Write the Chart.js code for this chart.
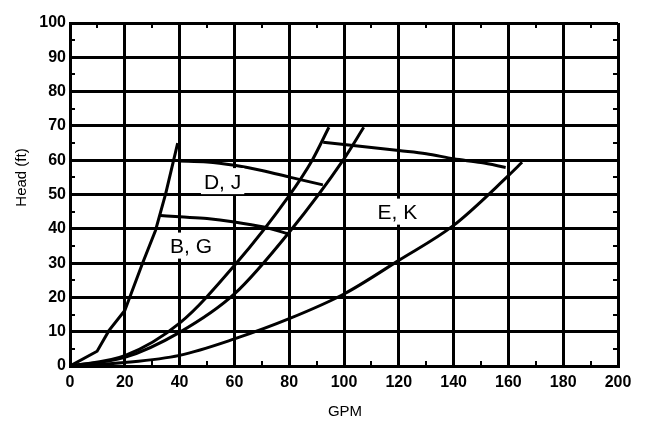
<!DOCTYPE html>
<html lang="en">
<head>
  <meta charset="UTF-8" />
  <title>Head vs GPM</title>
  <script src="https://cdn.jsdelivr.net/npm/chart.js"></script>
  <style>
    body { margin: 0; background: #fff; }
    #wrap { width: 647px; height: 421px; }
  </style>
</head>
<body>
  <div id="wrap"><canvas id="chart"></canvas></div>

  <script>
    // GPM / head (ft)
    const steepGpm = [0, 9.9, 14.2, 20, 26.4, 31.2, 34.9, 39.3];
    const steepHead = [0, 4.3, 10.3, 16.2, 29.8, 39.5, 50.2, 65];

    const sysAGpm = [0, 20, 40, 60, 80, 88.4, 94.5];
    const sysAHead = [0, 3, 12.5, 29.3, 49.7, 60, 69.6];

    const sysBGpm = [0, 20, 40, 60, 80, 100, 107.2];
    const sysBHead = [0, 2.5, 9.8, 21, 39, 60.4, 69.6];

    const sysEGpm = [0, 20, 40, 60, 80, 100, 120, 140, 160, 165];
    const sysEHead = [0, 1, 3.1, 7.9, 13.8, 21, 30.8, 41, 55.5, 59.4];

    const pumpDJGpm = [39.7, 50, 60, 70, 80.5, 92.3];
    const pumpDJHead = [59.8, 59.5, 58.5, 57, 55, 52.8];

    const pumpBGGpm = [33, 40, 50, 60, 70.7, 80];
    const pumpBGHead = [43.9, 43.5, 43, 42, 40.5, 38.5];

    const pumpEKGpm = [92.4, 100, 110, 120, 130, 140, 150, 159];
    const pumpEKHead = [65.2, 64.6, 63.7, 62.8, 61.9, 60.4, 59.3, 57.9];

    const xTickValues = [0, 20, 40, 60, 80, 100, 120, 140, 160, 180, 200];
    const yTickValues = [0, 10, 20, 30, 40, 50, 60, 70, 80, 90, 100];

    const curveLabels = ['D, J', 'B, G', 'E, K'];
    const labelGpm = [55.7, 44.2, 119.5];
    const labelHead = [53.9, 35.1, 45];

    const FONT = '"Liberation Sans", Arial, sans-serif';

    function pts(xs, ys) {
      return xs.map((x, i) => ({ x: x, y: ys[i] }));
    }

    function curve(xs, ys, smooth) {
      return {
        data: pts(xs, ys),
        borderColor: '#000',
        borderWidth: 3,
        pointRadius: 0,
        fill: false,
        tension: 0,
        cubicInterpolationMode: smooth ? 'monotone' : 'default'
      };
    }

    const decor = {
      id: 'decor',
      beforeDatasetsDraw(chart) {
        // small inward ticks between grid lines
        const { ctx, chartArea: a, scales: { x, y } } = chart;
        ctx.save();
        ctx.strokeStyle = '#000';
        ctx.lineWidth = 2;
        ctx.beginPath();
        for (let v = 10; v < 200; v += 20) {
          const px = Math.round(x.getPixelForValue(v));
          ctx.moveTo(px, a.top); ctx.lineTo(px, a.top + 5);
          ctx.moveTo(px, a.bottom); ctx.lineTo(px, a.bottom - 5);
        }
        for (let v = 5; v < 100; v += 10) {
          const py = Math.round(y.getPixelForValue(v));
          ctx.moveTo(a.left, py); ctx.lineTo(a.left + 5, py);
          ctx.moveTo(a.right, py); ctx.lineTo(a.right - 5, py);
        }
        ctx.stroke();
        ctx.restore();
      },
      afterDatasetsDraw(chart) {
        const { ctx, scales: { x, y } } = chart;
        ctx.save();
        ctx.font = '21px ' + FONT;
        ctx.textAlign = 'center';
        ctx.textBaseline = 'alphabetic';
        curveLabels.forEach((txt, i) => {
          const cx = x.getPixelForValue(labelGpm[i]);
          const cy = y.getPixelForValue(labelHead[i]);
          const w = ctx.measureText(txt).width;
          ctx.fillStyle = '#fff';
          ctx.fillRect(cx - w / 2 - 3, cy - 13, w + 6, 26);
          ctx.fillStyle = '#000';
          ctx.fillText(txt, cx, cy + 7.5);
        });
        ctx.restore();
      },
      afterDraw(chart) {
        const { ctx, chartArea: a } = chart;
        ctx.save();
        ctx.fillStyle = '#000';
        ctx.font = '15px ' + FONT;
        ctx.textAlign = 'center';
        ctx.textBaseline = 'middle';
        ctx.fillText('GPM', (a.left + a.right) / 2 + 1, 412);
        ctx.translate(22, (a.top + a.bottom) / 2 - 17);
        ctx.rotate(-Math.PI / 2);
        ctx.fillText('Head (ft)', 0, 0);
        ctx.restore();
      }
    };

    new Chart(document.getElementById('chart'), {
      type: 'line',
      data: {
        datasets: [
          curve(steepGpm, steepHead, false),
          curve(sysAGpm, sysAHead, true),
          curve(sysBGpm, sysBHead, true),
          curve(sysEGpm, sysEHead, true),
          curve(pumpDJGpm, pumpDJHead, true),
          curve(pumpBGGpm, pumpBGHead, true),
          curve(pumpEKGpm, pumpEKHead, true)
        ]
      },
      options: {
        responsive: true,
        maintainAspectRatio: false,
        animation: false,
        layout: { padding: { left: 0, right: 29, top: 23, bottom: 0 } },
        plugins: { legend: { display: false }, tooltip: { enabled: false } },
        scales: {
          x: {
            type: 'linear',
            min: 0,
            max: 200,
            afterBuildTicks: s => { s.ticks = xTickValues.map(v => ({ value: v })); },
            afterFit: s => { s.height = 55; },
            ticks: { color: '#000', padding: 7, maxRotation: 0, font: { family: FONT, size: 16, weight: 'bold' } },
            grid: { color: '#000', lineWidth: 3, drawTicks: false },
            border: { color: '#000', width: 3 }
          },
          y: {
            min: 0,
            max: 100,
            afterBuildTicks: s => { s.ticks = yTickValues.map(v => ({ value: v })); },
            afterFit: s => { s.width = 70; },
            ticks: { color: '#000', padding: 4, font: { family: FONT, size: 16, weight: 'bold' } },
            grid: { color: '#000', lineWidth: 3, drawTicks: false },
            border: { color: '#000', width: 3 }
          }
        }
      },
      plugins: [decor]
    });
  </script>
</body>
</html>
